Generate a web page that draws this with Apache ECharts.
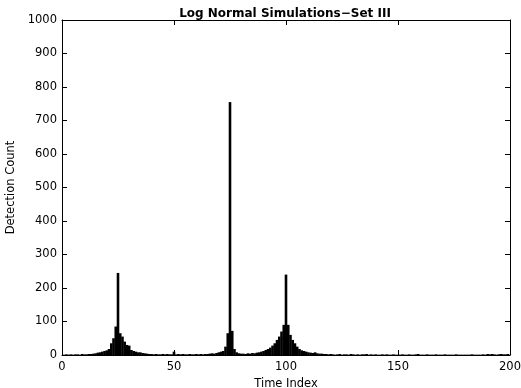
<!DOCTYPE html>
<html>
<head>
<meta charset="utf-8">
<script src="https://cdn.jsdelivr.net/npm/echarts@6/dist/echarts.min.js"></script>
<style>html,body{margin:0;padding:0;background:#fff}#c{width:521px;height:388px}</style>
</head>
<body>
<div id="c"></div>
<script>
const titleText = "Log Normal Simulations\u2212Set III";
const xLabel = "Time Index";
const yLabel = "Detection Count";
const xTicks = [0, 50, 100, 150, 200];
const yTicks = [0, 100, 200, 300, 400, 500, 600, 700, 800, 900, 1000];
// detection counts for time index 1..200
const counts = [
  1,2,1,2,1,2,2,1,3,2,
  2,3,3,4,5,7,8,10,12,14,
  18,35,50,85,245,65,55,40,30,28,
  15,12,10,8,8,6,5,4,3,3,
  2,3,2,2,3,2,3,2,2,10,
  2,3,2,3,2,2,3,2,2,3,
  2,3,2,3,3,4,5,4,6,8,
  10,12,25,65,755,72,18,8,5,4,
  4,3,5,4,6,5,7,8,10,12,
  15,18,22,28,35,45,55,70,90,240,
  90,60,45,35,25,18,14,12,10,8,
  7,6,8,5,4,4,3,3,2,3,
  2,1,2,3,1,2,2,1,3,2,
  1,2,1,2,2,3,1,2,1,2,
  1,1,2,1,2,1,1,2,1,1,
  1,2,1,1,2,1,1,2,3,1,
  1,1,2,1,1,1,2,1,1,1,
  2,1,1,1,1,2,1,1,1,1,
  1,1,2,1,1,1,1,2,1,3,
  2,3,2,1,2,3,2,2,3,1
];
const timeIndex = counts.map((_, i) => i + 1);

const chart = echarts.init(document.getElementById('c'), null, {renderer: 'canvas'});
const font = 'DejaVu Sans, Liberation Sans, Arial, sans-serif';
const axisCommon = {
  axisLine: {show: true, onZero: false, lineStyle: {color: '#000', width: 1}},
  axisTick: {show: true, inside: true, length: 5, lineStyle: {color: '#000'}},
  splitLine: {show: false}
};
chart.setOption({
  animation: false,
  backgroundColor: '#fff',
  title: {
    text: titleText, left: 280, textAlign: 'center', top: 3,
    textStyle: {fontFamily: font, fontSize: 12, fontWeight: 'bold', color: '#000'}
  },
  grid: {left: 62, right: 11, top: 20, bottom: 33, containLabel: false, outerBoundsMode: 'none'},
  xAxis: [
    Object.assign({
      type: 'value', min: 0, max: 200, interval: 50, position: 'bottom',
      name: xLabel, nameLocation: 'middle', nameGap: 18,
      nameTextStyle: {fontFamily: font, fontSize: 11.5, color: '#000'},
      axisLabel: {fontFamily: font, fontSize: 11.5, color: '#000', margin: 6,
        formatter: v => xTicks.includes(v) ? String(v) : ''}
    }, axisCommon),
    Object.assign({
      type: 'value', min: 0, max: 200, interval: 50, position: 'top',
      axisLabel: {show: false}
    }, axisCommon)
  ],
  yAxis: [
    Object.assign({
      type: 'value', min: 0, max: 1000, interval: 100, position: 'left',
      name: yLabel, nameLocation: 'middle', nameGap: 40, nameRotate: 90,
      nameTextStyle: {fontFamily: font, fontSize: 11.5, color: '#000'},
      axisLabel: {fontFamily: font, fontSize: 11.5, color: '#000', margin: 5,
        formatter: v => yTicks.includes(v) ? String(v) : ''}
    }, axisCommon),
    Object.assign({
      type: 'value', min: 0, max: 1000, interval: 100, position: 'right',
      axisLabel: {show: false}
    }, axisCommon)
  ],
  series: [{
    type: 'bar',
    xAxisIndex: 0, yAxisIndex: 0,
    data: timeIndex.map((t, i) => [t, counts[i]]),
    barWidth: 2.6,
    itemStyle: {color: '#000'},
    silent: true
  }]
});
</script>
</body>
</html>
